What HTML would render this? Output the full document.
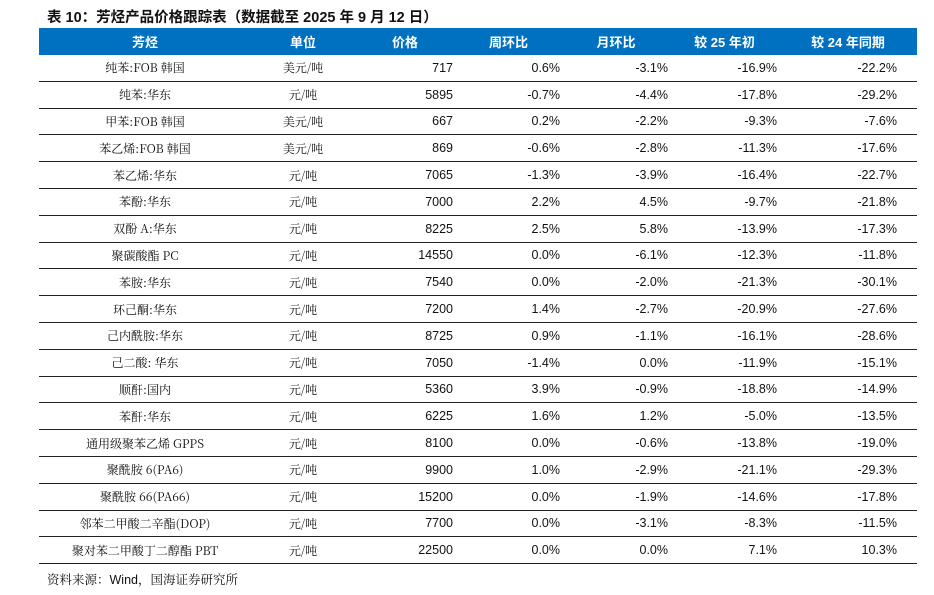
<!DOCTYPE html>
<html><head><meta charset="utf-8">
<style>
html,body{margin:0;padding:0;background:#fff;width:934px;height:595px;overflow:hidden}
body{position:relative;font-family:"Liberation Sans","Noto Sans CJK SC",sans-serif;color:#111}
#title{position:absolute;left:47px;top:6px;font-size:14.5px;font-weight:bold;white-space:nowrap}
table{position:absolute;left:39px;top:28px;width:878px;border-collapse:collapse;table-layout:fixed}
th{background:#0070c0;color:#fff;font-size:13px;font-weight:bold;height:27px;padding:0;font-family:"Liberation Sans","Noto Sans CJK SC",sans-serif}
td{height:25.8px;padding:0;font-size:12.5px;border-bottom:1px solid #222}
td.c{text-align:center;font-family:"Noto Serif CJK SC","Liberation Serif",serif;font-size:12px}
td.n{text-align:right}
#src{position:absolute;left:47px;top:570px;font-size:12.5px;font-family:"Liberation Sans","Noto Serif CJK SC",sans-serif}
</style></head><body>
<div id="title">表 10：芳烃产品价格跟踪表（数据截至 2025 年 9 月 12 日）</div>
<table>
<colgroup><col style="width:212px"><col style="width:104px"><col style="width:100px"><col style="width:107px"><col style="width:108px"><col style="width:109px"><col style="width:138px"></colgroup>
<thead><tr>
<th style="text-align:center">芳烃</th><th style="text-align:center">单位</th><th style="text-align:center">价格</th><th style="text-align:center">周环比</th><th style="text-align:center">月环比</th><th style="text-align:center">较 25 年初</th><th style="text-align:center">较 24 年同期</th></tr></thead>
<tbody id="tb"></tbody>
</table>
<div id="src">资料来源：Wind，国海证券研究所</div>
<script>
const names=["纯苯:FOB 韩国","纯苯:华东","甲苯:FOB 韩国","苯乙烯:FOB 韩国","苯乙烯:华东","苯酚:华东","双酚 A:华东","聚碳酸酯 PC","苯胺:华东","环己酮:华东","己内酰胺:华东","己二酸: 华东","顺酐:国内","苯酐:华东","通用级聚苯乙烯 GPPS","聚酰胺 6(PA6)","聚酰胺 66(PA66)","邻苯二甲酸二辛酯(DOP)","聚对苯二甲酸丁二醇酯 PBT"];
const units=["美元/吨","元/吨","美元/吨","美元/吨","元/吨","元/吨","元/吨","元/吨","元/吨","元/吨","元/吨","元/吨","元/吨","元/吨","元/吨","元/吨","元/吨","元/吨","元/吨"];
const prices=[717,5895,667,869,7065,7000,8225,14550,7540,7200,8725,7050,5360,6225,8100,9900,15200,7700,22500];
const wow=["0.6%","-0.7%","0.2%","-0.6%","-1.3%","2.2%","2.5%","0.0%","0.0%","1.4%","0.9%","-1.4%","3.9%","1.6%","0.0%","1.0%","0.0%","0.0%","0.0%"];
const mom=["-3.1%","-4.4%","-2.2%","-2.8%","-3.9%","4.5%","5.8%","-6.1%","-2.0%","-2.7%","-1.1%","0.0%","-0.9%","1.2%","-0.6%","-2.9%","-1.9%","-3.1%","0.0%"];
const ytd=["-16.9%","-17.8%","-9.3%","-11.3%","-16.4%","-9.7%","-13.9%","-12.3%","-21.3%","-20.9%","-16.1%","-11.9%","-18.8%","-5.0%","-13.8%","-21.1%","-14.6%","-8.3%","7.1%"];
const yoy=["-22.2%","-29.2%","-7.6%","-17.6%","-22.7%","-21.8%","-17.3%","-11.8%","-30.1%","-27.6%","-28.6%","-15.1%","-14.9%","-13.5%","-19.0%","-29.3%","-17.8%","-11.5%","10.3%"];
const tb=document.getElementById('tb');
const pads=[0,0,2,2,2,2,20];
names.forEach((n,i)=>{
  const tr=document.createElement('tr');
  
  
  const vals=[n,units[i],String(prices[i]),wow[i],mom[i],ytd[i],yoy[i]];
  vals.forEach((v,j)=>{
    const td=document.createElement('td');
    
    
    td.className=j<2?'c':'n';
    if(j>=2)td.style.paddingRight=pads[j]+'px';
    td.textContent=v;
    tr.appendChild(td);
  });
  tb.appendChild(tr);
});
</script>
</body></html>
